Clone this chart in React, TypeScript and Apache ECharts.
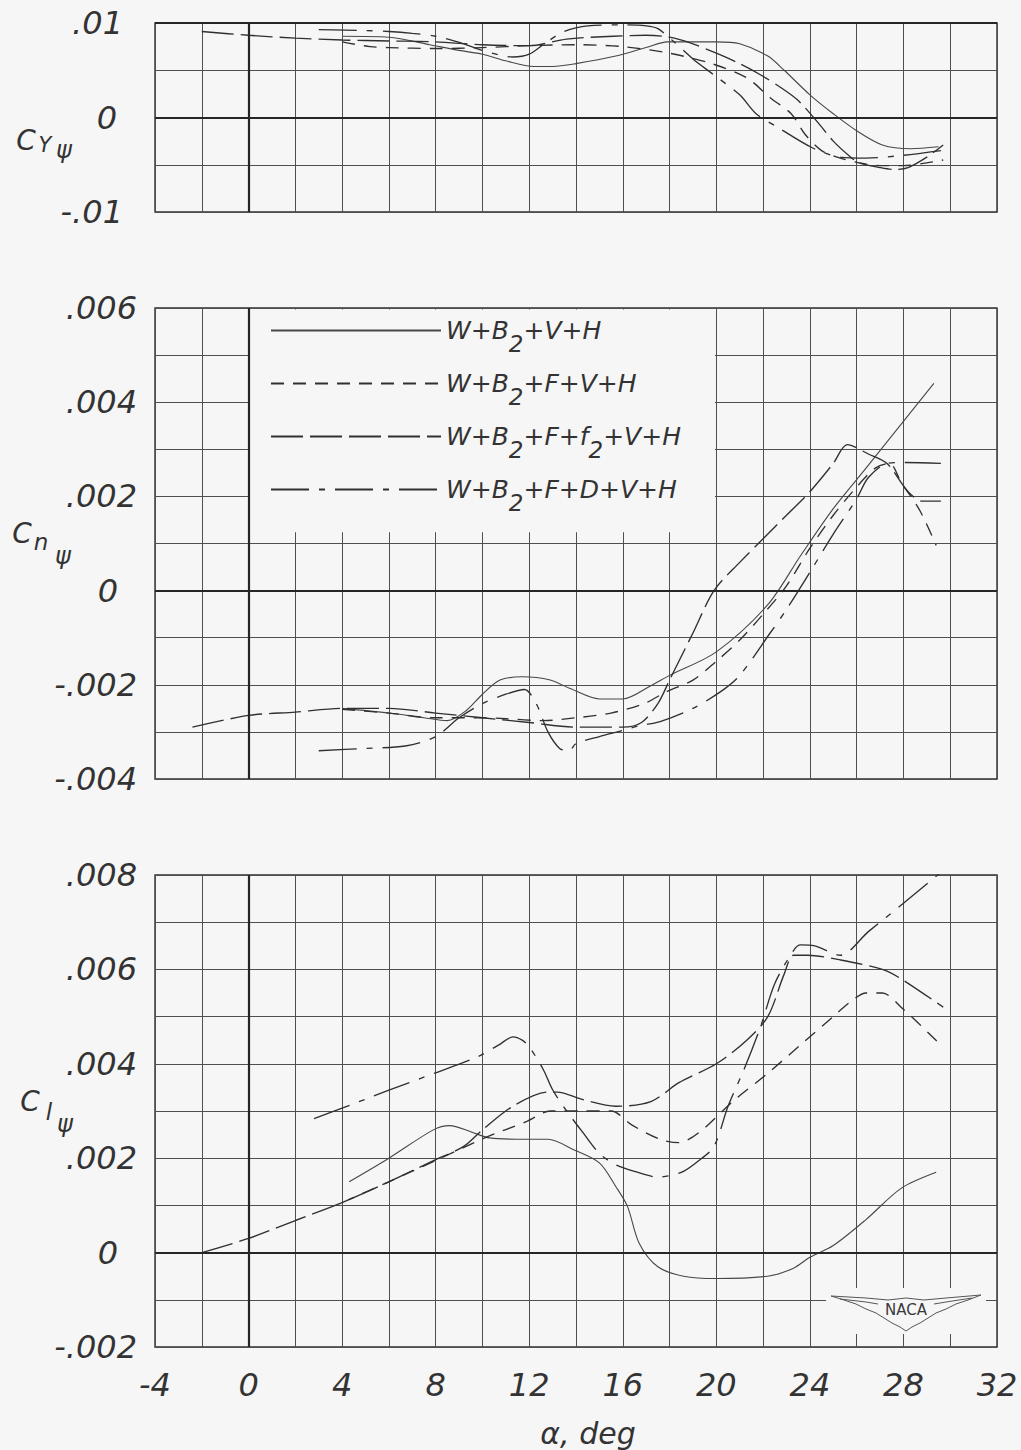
import { useEffect, useRef } from 'react';
import * as echarts from 'echarts';

// Configuration names (the "2" characters are drawn as subscripts in the legend)
const CONFIGS = ['W+B2+V+H', 'W+B2+F+V+H', 'W+B2+F+f2+V+H', 'W+B2+F+D+V+H'];

// Angle of attack, deg: axis range and labelled ticks
const ALPHA_MIN = -4;
const ALPHA_MAX = 32;
const ALPHA_LABELS = [-4, 0, 4, 8, 12, 16, 20, 24, 28, 32];

// ---- Side-force derivative C_Y psi ----
const cyBase = [
  [4, 0.0086], [6, 0.0085], [7.75, 0.0077], [9, 0.0071], [10, 0.0067], [11, 0.006], [12.2, 0.0054],
  [13, 0.0054], [14, 0.0057], [15.7, 0.0065], [17, 0.0074], [17.9, 0.008], [20, 0.008], [21, 0.0078],
  [22.2, 0.0065], [22.9, 0.005], [24, 0.0024], [25, 0.0004], [26, -0.0014], [27.1, -0.0029],
  [28.3, -0.0033], [29.5, -0.0031],
];
const cyFuselage = [
  [4, 0.008], [5.2, 0.0075], [6, 0.0074], [8, 0.0073], [10, 0.0074], [12, 0.0076], [14, 0.0077],
  [16, 0.0075], [18, 0.0068], [19.8, 0.0057], [21.3, 0.0042], [22.3, 0.0021], [23.2, 0.0004],
  [23.8, -0.0018], [24.5, -0.0035], [25.3, -0.0043], [26.1, -0.0048], [27, -0.0051], [28, -0.0051],
  [29, -0.0048], [29.7, -0.0045],
];
const cyStrake = [
  [-2, 0.0091], [0, 0.0087], [2, 0.0084], [4, 0.0082], [6, 0.0081], [8, 0.008], [10, 0.0077],
  [12, 0.0076], [13.6, 0.0083], [15.6, 0.0086], [17, 0.0087], [18, 0.0085], [19, 0.0078], [20, 0.0068],
  [21, 0.0057], [21.9, 0.0045], [22.8, 0.0031], [23.5, 0.0018], [24.4, -0.0007], [25, -0.0025],
  [25.7, -0.0041], [26.1, -0.0048], [27, -0.0053], [27.6, -0.0055], [28.2, -0.0053], [29, -0.0042],
  [29.7, -0.0029],
];
const cyDive = [
  [3, 0.0093], [5, 0.0092], [6, 0.0091], [7, 0.0089], [8, 0.0086], [9.2, 0.0078], [10, 0.0071],
  [11.3, 0.0064], [12, 0.0067], [12.7, 0.0079], [13.5, 0.0091], [14.5, 0.0097], [16, 0.0098],
  [17, 0.0097], [17.5, 0.0094], [18.1, 0.0082], [19, 0.0062], [19.9, 0.0045], [21, 0.0024],
  [21.7, 0.0004], [22.6, -0.001], [24.1, -0.0032], [25.3, -0.0042], [26.4, -0.0043], [28, -0.004],
  [29.6, -0.0035],
];

// ---- Yawing-moment derivative C_n psi ----
const cnBase = [
  [4, -0.0025], [6, -0.0026], [7.5, -0.0027], [8.5, -0.00276], [9.3, -0.00255], [10, -0.0022],
  [10.75, -0.0019], [11.7, -0.00183], [12.9, -0.0019], [13.75, -0.00208], [15, -0.0023], [16, -0.0023],
  [17.2, -0.00202], [18, -0.0018], [20, -0.0013], [22.2, -0.0003], [23.6, 0.00074], [25, 0.00174],
  [26.4, 0.0026], [29.3, 0.0044],
];
const cnFuselage = [
  [4, -0.00252], [6, -0.0026], [8, -0.0027], [10, -0.0027], [11, -0.00272], [12.6, -0.00276],
  [14, -0.0027], [15.5, -0.0026], [16.9, -0.0024], [17.9, -0.00214], [19, -0.0019], [20, -0.0015],
  [21, -0.00105], [22, -0.0005], [23, 0.0001], [24, 0.0009], [25, 0.0016], [26, 0.0022], [26.8, 0.0026],
  [27.4, 0.0027], [27.9, 0.0023], [28.7, 0.0017], [29.4, 0.00096],
];
const cnStrake = [
  [-2.4, -0.0029], [0, -0.00265], [2, -0.00258], [4, -0.0025], [6, -0.0025], [8, -0.0026], [10, -0.0027],
  [12, -0.0028], [14, -0.0029], [16, -0.0029], [16.8, -0.0028], [17.5, -0.0024], [18, -0.0019],
  [19, -0.0009], [19.9, 0], [21, 0.0006], [22, 0.0011], [23, 0.0016], [24, 0.0021], [25, 0.0027],
  [25.6, 0.0031], [26.5, 0.0029], [27.3, 0.0027], [28.2, 0.0021], [28.8, 0.0019], [29.6, 0.0019],
];
const cnDive = [
  [3, -0.0034], [5, -0.00335], [6.7, -0.0033], [8, -0.0031], [9, -0.0027], [10, -0.0024], [11, -0.0022],
  [11.8, -0.0021], [12.3, -0.0024], [12.8, -0.003], [13.3, -0.00335], [13.7, -0.0034], [14, -0.00325],
  [15, -0.0031], [16, -0.00297], [16.7, -0.00287], [17.6, -0.00278], [19, -0.0025], [20.2, -0.00214],
  [21, -0.0018], [22.3, -0.0009], [23, -0.0004], [24.1, 0.00047], [25, 0.0012], [26, 0.00195],
  [26.5, 0.0024], [27.3, 0.0027], [28, 0.00272], [29.6, 0.0027],
];

// ---- Rolling-moment derivative C_l psi ----
const clBase = [
  [4.3, 0.0015], [6, 0.0020], [7.9, 0.0026], [8.6, 0.00269], [9.5, 0.00256], [10.3, 0.00243],
  [11.9, 0.0024], [12.8, 0.0024], [13.9, 0.00218], [15, 0.0019], [15.7, 0.0014], [16.2, 0.00098],
  [16.7, 0.0002], [17.5, -0.0003], [18.6, -0.0005], [20, -0.00055], [22.2, -0.0005], [23.3, -0.00033],
  [24, -0.0001], [25, 0.00015], [26.4, 0.0007], [27.9, 0.00136], [29.4, 0.0017],
];
const clFuselage = [
  [4, 0.00106], [6, 0.0015], [8, 0.00195], [10.1, 0.00243], [11.9, 0.00278], [12.9, 0.003],
  [14.3, 0.003], [15.5, 0.003], [16.4, 0.0027], [17.6, 0.0024], [18.4, 0.00233], [19.3, 0.00256],
  [20.7, 0.0032], [22.2, 0.0038], [23.6, 0.0044], [25, 0.005], [25.7, 0.0053], [26.4, 0.0055],
  [27.1, 0.0055], [27.9, 0.0052], [29.6, 0.0044],
];
const clStrake = [
  [-2, 0], [0, 0.0003], [2, 0.00068], [4, 0.00106], [6, 0.0015], [8, 0.00197], [9.2, 0.00225],
  [10, 0.0026], [11.3, 0.0031], [12.8, 0.0034], [13.2, 0.0034], [14.3, 0.00324], [15.7, 0.0031],
  [17.2, 0.0032], [18.4, 0.0036], [20, 0.004], [21.3, 0.0045], [22.2, 0.005], [22.9, 0.0059],
  [23.3, 0.0063], [23.9, 0.0063], [25.3, 0.0062], [27.1, 0.006], [27.9, 0.0058], [29.7, 0.0052],
];
const clDive = [
  [2.8, 0.00284], [4, 0.00306], [6, 0.00344], [8, 0.00381], [9.8, 0.00415], [10.7, 0.0044],
  [11.3, 0.00457], [11.7, 0.0045], [12, 0.00436], [12.6, 0.00388], [13, 0.00345], [13.6, 0.003],
  [14.3, 0.00254], [15, 0.0021], [15.7, 0.00186], [16.5, 0.00172], [17.5, 0.0016], [18.5, 0.0017],
  [19.2, 0.00193], [19.9, 0.00225], [20.5, 0.0031], [21.2, 0.0039], [21.9, 0.0048], [22.5, 0.0057],
  [23.3, 0.0064], [23.6, 0.00652], [24.2, 0.0065], [25.3, 0.0063], [26.5, 0.0068], [28, 0.0074],
  [29.7, 0.0081],
];

// Vertical scales of the three panels
const CY_RANGE = { min: -0.01, max: 0.01, step: 0.005, decimals: 2 };
const CN_RANGE = { min: -0.004, max: 0.006, step: 0.001, decimals: 3 };
const CL_RANGE = { min: -0.002, max: 0.008, step: 0.001, decimals: 3 };

// Legend frame inside the C_n panel (angle and coefficient limits)
const LEGEND_FRAME = { alphaFrom: 0.06, alphaTo: 19.94, cnFrom: 0.00124, cnTo: 0.00597 };

const BG = '#f6f6f6';
const INK = '#333333';
const GRID_INK = '#4f4f4f';
const FONT = 'DejaVu Sans';

const DASHES: any[] = ['solid', [13, 9], [32, 7], [38, 10, 6, 10]];

const PANELS = [
  { range: CY_RANGE, sets: [cyBase, cyFuselage, cyStrake, cyDive], bold: [0, 0.005], top: 23, height: 189, labelMargin: 32, zeroPad: 6 },
  { range: CN_RANGE, sets: [cnBase, cnFuselage, cnStrake, cnDive], bold: [0], top: 308, height: 471, labelMargin: 18, zeroPad: 19 },
  { range: CL_RANGE, sets: [clBase, clFuselage, clStrake, clDive], bold: [0], top: 875, height: 472, labelMargin: 18, zeroPad: 19 },
];

function tickFormatter(step: number, decimals: number) {
  return (v: number) => {
    const k = Math.round(v / step);
    if (k % 2 !== 0) return '';
    if (k === 0) return '{z|0}';
    const s = Math.abs(v).toFixed(decimals).replace(/^0/, '');
    return (v < 0 ? '-' : '') + s;
  };
}

const labelFont = {
  color: INK,
  fontFamily: FONT,
  fontStyle: 'italic' as const,
  fontSize: 32,
};

function buildOption() {
  const grid = PANELS.map((p) => ({
    left: 155,
    width: 842,
    top: p.top,
    height: p.height,
    show: true,
    borderColor: '#2f2f2f',
    borderWidth: 1.4,
    backgroundColor: 'transparent',
  }));

  const xAxis = PANELS.map((_, i) => ({
    type: 'value',
    gridIndex: i,
    min: ALPHA_MIN,
    max: ALPHA_MAX,
    interval: 2,
    axisLine: { show: false },
    axisTick: { show: false },
    splitLine: { show: true, lineStyle: { color: GRID_INK, width: 1 } },
    axisLabel: {
      show: i === PANELS.length - 1,
      margin: 22,
      ...labelFont,
      formatter: (v: number) => (ALPHA_LABELS.includes(v) ? String(v) : ''),
    },
  }));

  const yAxis = PANELS.map((p, i) => ({
    type: 'value',
    gridIndex: i,
    min: p.range.min,
    max: p.range.max,
    interval: p.range.step,
    axisLine: { show: false },
    axisTick: { show: false },
    splitLine: { show: true, lineStyle: { color: GRID_INK, width: 1 } },
    axisLabel: {
      margin: p.labelMargin,
      ...labelFont,
      formatter: tickFormatter(p.range.step, p.range.decimals),
      rich: { z: { ...labelFont, padding: [0, p.zeroPad, 0, 0] } },
    },
  }));

  const series: any[] = [];
  PANELS.forEach((p, g) => {
    p.sets.forEach((data, k) => {
      const s: any = {
        type: 'line',
        name: CONFIGS[k],
        xAxisIndex: g,
        yAxisIndex: g,
        data,
        symbol: 'none',
        showSymbol: false,
        smooth: 0.3,
        silent: true,
        itemStyle: { color: '#303030' },
        lineStyle: {
          color: k === 0 ? '#474747' : '#303030',
          width: k === 0 ? 1.1 : 1.35,
          type: DASHES[k],
        },
      };
      // heavy reference lines at alpha = 0 and zero coefficient
      if (k === 3) {
        s.markLine = {
          silent: true,
          symbol: ['none', 'none'],
          label: { show: false },
          lineStyle: { color: '#262626', width: 2.2, type: 'solid' },
          data: [{ xAxis: 0 }, ...p.bold.map((y) => ({ yAxis: y }))],
        };
      }
      // blank frame holding the key
      if (g === 1 && k === 0) {
        s.markArea = {
          silent: true,
          itemStyle: { color: BG },
          data: [[
            { xAxis: LEGEND_FRAME.alphaFrom, yAxis: LEGEND_FRAME.cnFrom },
            { xAxis: LEGEND_FRAME.alphaTo, yAxis: LEGEND_FRAME.cnTo },
          ]],
        };
      }
      series.push(s);
    });
  });

  const legendText = {
    color: INK,
    fontFamily: FONT,
    fontStyle: 'italic' as const,
    fontSize: 25,
    lineHeight: 28,
    verticalAlign: 'middle' as const,
  };

  const symbolText = (text: string, x: number, y: number, size: number) => ({
    type: 'text',
    x,
    y,
    z: 20,
    style: {
      text,
      fill: INK,
      fontFamily: FONT,
      fontStyle: 'italic',
      fontSize: size,
      align: 'center',
      verticalAlign: 'middle',
    },
  });

  const graphic: any[] = [
    // C_Y psi
    symbolText('C', 26, 140, 28),
    symbolText('Y', 45, 145, 21),
    symbolText('ψ', 64, 150, 24),
    // C_n psi
    symbolText('C', 22, 533, 28),
    symbolText('n', 41, 542, 23),
    symbolText('ψ', 63, 556, 24),
    // C_l psi
    symbolText('C', 30, 1101, 28),
    symbolText('l', 49, 1112, 23),
    symbolText('ψ', 65, 1124, 24),
    // abscissa title
    symbolText('α, deg', 588, 1433, 30),
    // NACA wing emblem
    {
      type: 'group',
      x: 826,
      y: 1288,
      children: [
        { type: 'rect', z: 20, shape: { x: 0, y: 0, width: 160, height: 46 }, style: { fill: BG } },
        {
          type: 'polyline', z: 21,
          shape: { points: [[5, 8], [40, 10], [62, 12], [80, 10], [98, 12], [120, 10], [155, 7]] },
          style: { stroke: '#555', lineWidth: 1, fill: 'none' },
        },
        {
          type: 'polyline', z: 21,
          shape: { points: [[14, 11], [40, 14], [52, 16]] },
          style: { stroke: '#555', lineWidth: 1, fill: 'none' },
        },
        {
          type: 'polyline', z: 21,
          shape: { points: [[108, 16], [120, 14], [146, 10]] },
          style: { stroke: '#555', lineWidth: 1, fill: 'none' },
        },
        {
          type: 'polyline', z: 21,
          shape: {
            points: [[5, 8], [18, 12], [30, 16], [40, 21], [50, 25], [58, 30], [66, 35], [74, 39], [80, 43],
              [86, 39], [94, 35], [102, 30], [110, 25], [120, 21], [130, 16], [142, 12], [155, 7]],
          },
          style: { stroke: '#555', lineWidth: 1, fill: 'none' },
        },
        {
          type: 'text', z: 22, x: 80, y: 22,
          style: { text: 'NACA', fill: '#3a3a3a', fontFamily: FONT, fontSize: 15, align: 'center', verticalAlign: 'middle' },
        },
      ],
    },
  ];

  return {
    animation: false,
    backgroundColor: BG,
    grid,
    xAxis,
    yAxis,
    series,
    graphic,
    legend: {
      data: CONFIGS,
      orient: 'vertical',
      left: 270,
      top: 306,
      padding: 0,
      itemWidth: 170,
      itemHeight: 20,
      itemGap: 4,
      selectedMode: false,
      itemStyle: { opacity: 0 },
      formatter: (name: string) => `{n|${name.split('2').join('}{s|2}{n|')}}`,
      textStyle: {
        ...legendText,
        rich: {
          n: legendText,
          s: { ...legendText, fontSize: 23, padding: [26, 0, 0, 0] },
        },
      },
    },
  };
}

export default function App() {
  const ref = useRef<HTMLDivElement>(null);

  useEffect(() => {
    if (!ref.current) return;
    const chart = echarts.init(ref.current, null, { renderer: 'svg' });
    chart.setOption(buildOption() as any);
    return () => chart.dispose();
  }, []);

  return (
    <div
      ref={ref}
      style={{ position: 'absolute', left: 0, top: 0, width: 1021, height: 1450, background: BG }}
    />
  );
}
